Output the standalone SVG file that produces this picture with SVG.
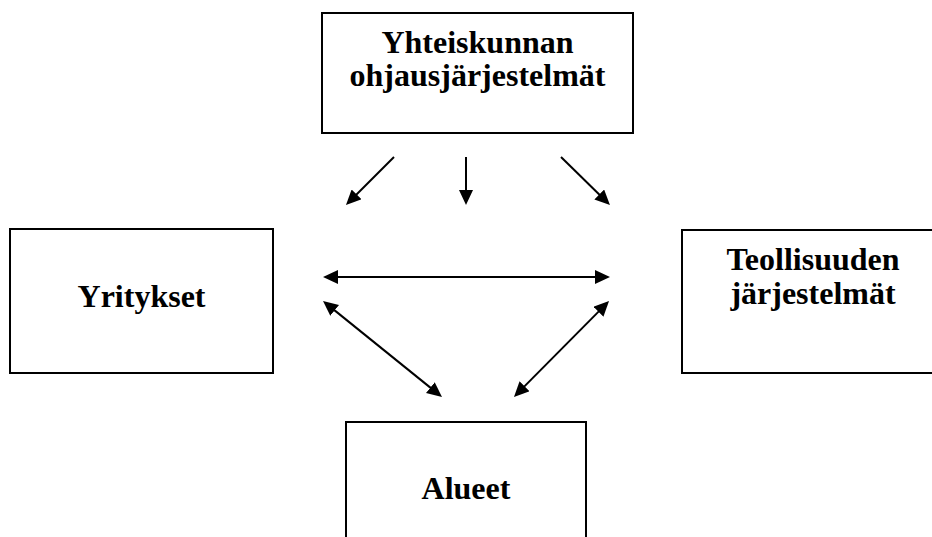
<svg xmlns="http://www.w3.org/2000/svg" width="932" height="537" viewBox="0 0 932 537">
<defs>
<style>
.box{fill:#fff;stroke:#000;stroke-width:2}
.lbl{font-family:"Liberation Serif","Times New Roman",serif;font-weight:bold;font-size:32px;fill:#000;text-anchor:middle}
.con line{stroke:#000;stroke-width:2}
</style>
<marker id="ah" markerUnits="userSpaceOnUse" markerWidth="15" markerHeight="14" refX="10" refY="7" orient="auto-start-reverse">
<path d="M0,0 L15,7 L0,14 z" fill="#000"/>
</marker>
</defs>
<rect width="932" height="537" fill="#fff"/>
<g id="yhteiskunnan">
<rect class="box" x="322" y="13" width="311" height="120"/>
<text class="lbl" x="477.5" y="53">Yhteiskunnan</text>
<text class="lbl" x="477.5" y="86">ohjausjärjestelmät</text>
</g>
<g id="yritykset">
<rect class="box" x="10" y="229" width="263" height="144"/>
<text class="lbl" x="141.5" y="307">Yritykset</text>
</g>
<g id="teollisuuden">
<rect class="box" x="682" y="230" width="270" height="143"/>
<text class="lbl" x="813" y="270">Teollisuuden</text>
<text class="lbl" x="813" y="304">järjestelmät</text>
</g>
<g id="alueet">
<rect class="box" x="346" y="422" width="240" height="130"/>
<text class="lbl" x="466" y="499">Alueet</text>
</g>
<g id="connectors" class="con">
<line x1="394" y1="157" x2="349.5" y2="201.5" marker-end="url(#ah)"/>
<line x1="466" y1="157" x2="466" y2="200" marker-end="url(#ah)"/>
<line x1="561" y1="157" x2="606.4" y2="201.5" marker-end="url(#ah)"/>
<line x1="328" y1="277" x2="605" y2="277" marker-start="url(#ah)" marker-end="url(#ah)"/>
<line x1="326.9" y1="304.1" x2="438.1" y2="393.9" marker-start="url(#ah)" marker-end="url(#ah)"/>
<line x1="605.5" y1="304.6" x2="517.5" y2="393.4" marker-start="url(#ah)" marker-end="url(#ah)"/>
</g>
</svg>
